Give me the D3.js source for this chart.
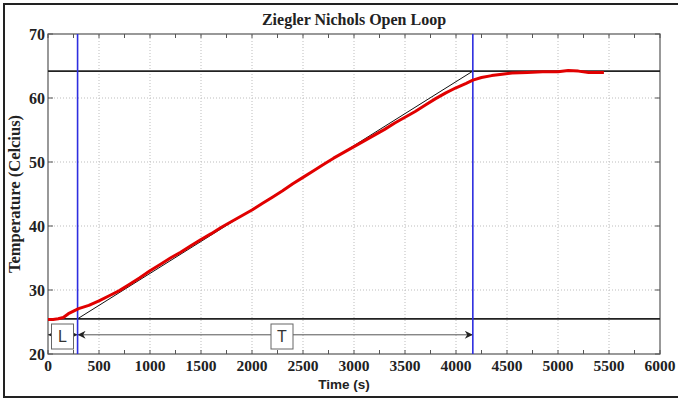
<html lang="en">
  <head>
    <meta charset="utf-8">
    <title>Ziegler Nichols Open Loop</title>
    <script src="https://d3js.org/d3.v7.min.js"></script>
    <style>
      body { margin: 0; background: #fff; }
      .tick-label { font-family: "Liberation Serif", "Times New Roman", serif; font-weight: bold; fill: #222; }
      .grid line { stroke: #bdbdbd; stroke-dasharray: 1,2; }
    </style>
  </head>
  <body>
    <script>
    // measured temperature (red curve)
    var timeS = [0, 50, 100, 150, 200, 250, 300, 400, 500, 600, 700, 800, 900, 1000,
      1100, 1200, 1300, 1400, 1500, 1600, 1700, 1800, 1900, 2000, 2100, 2200, 2300,
      2400, 2500, 2600, 2700, 2800, 2900, 3000, 3100, 3200, 3300, 3400, 3500, 3600,
      3700, 3800, 3900, 4000, 4100, 4165, 4250, 4350, 4450, 4550, 4700, 4850, 5000,
      5100, 5200, 5300, 5450];
    var tempC = [25.4, 25.4, 25.5, 25.7, 26.3, 26.7, 27.1, 27.6, 28.3, 29.1, 29.9, 30.9, 31.9, 33.0,
      34.0, 35.0, 35.9, 36.9, 37.9, 38.8, 39.8, 40.7, 41.6, 42.5, 43.5, 44.5, 45.5,
      46.6, 47.6, 48.6, 49.6, 50.6, 51.5, 52.4, 53.3, 54.2, 55.1, 56.1, 57.0, 57.9,
      58.9, 59.9, 60.8, 61.6, 62.3, 62.8, 63.2, 63.5, 63.7, 63.9, 64.0, 64.1, 64.1,
      64.3, 64.2, 64.0, 64.0];

    // Ziegler-Nichols construction
    var baseTemp = 25.5, finalTemp = 64.2;
    var deadTime = 290, tangentEnd = 4165;   // L and L+T
    var arrowTemp = 23.0;

    var xTicks = [0, 500, 1000, 1500, 2000, 2500, 3000, 3500, 4000, 4500, 5000, 5500, 6000];
    var yTicks = [20, 30, 40, 50, 60, 70];

    var W = 678, H = 399;
    var svg = d3.select("body").append("svg").attr("width", W).attr("height", H);

    var x = d3.scaleLinear().domain([0, 6000]).range([48, 660]);
    var y = d3.scaleLinear().domain([20, 70]).range([354, 34]);

    // arrow head marker
    svg.append("defs").append("marker")
      .attr("id", "ah").attr("viewBox", "0 0 10 10").attr("refX", 10).attr("refY", 5)
      .attr("markerWidth", 9).attr("markerHeight", 8).attr("markerUnits", "userSpaceOnUse")
      .attr("orient", "auto-start-reverse")
      .append("path").attr("d", "M0,0 L10,5 L0,10 L3,5 Z").attr("fill", "#222");

    // outer frame of the figure
    svg.append("path").attr("d", "M678,4 L4,4 L4,397 L678,397")
      .attr("fill", "none").attr("stroke", "#222").attr("stroke-width", 2);

    // grid
    var grid = svg.append("g").attr("class", "grid");
    grid.selectAll(".gx").data(xTicks.slice(1, -1)).enter().append("line")
      .attr("x1", x).attr("x2", x).attr("y1", y(20)).attr("y2", y(70));
    grid.selectAll(".gy").data(yTicks.slice(1, -1)).enter().append("line")
      .attr("x1", x(0)).attr("x2", x(6000)).attr("y1", y).attr("y2", y);

    // axes box + ticks
    svg.append("rect").attr("x", x(0)).attr("y", y(70))
      .attr("width", x(6000) - x(0)).attr("height", y(20) - y(70))
      .attr("fill", "none").attr("stroke", "#555").attr("stroke-width", 1.2);

    var xMinor = d3.range(0, 6001, 250);
    svg.append("g").selectAll("line").data(xMinor).enter().append("line")
      .attr("x1", x).attr("x2", x).attr("y1", y(20)).attr("y2", y(20) - 4)
      .attr("stroke", "#555");
    svg.append("g").selectAll("line").data(xMinor).enter().append("line")
      .attr("x1", x).attr("x2", x).attr("y1", y(70)).attr("y2", y(70) + 4)
      .attr("stroke", "#555");
    svg.append("g").selectAll("line").data(yTicks).enter().append("line")
      .attr("x1", x(0)).attr("x2", x(0) + 5).attr("y1", y).attr("y2", y).attr("stroke", "#555");
    svg.append("g").selectAll("line").data(yTicks).enter().append("line")
      .attr("x1", x(6000)).attr("x2", x(6000) - 5).attr("y1", y).attr("y2", y).attr("stroke", "#555");

    svg.append("g").selectAll("text").data(xTicks).enter().append("text")
      .attr("class", "tick-label").attr("x", x).attr("y", 371)
      .attr("text-anchor", "middle").style("font-size", "15.5px").text(function(d) { return d; });
    svg.append("g").selectAll("text").data(yTicks).enter().append("text")
      .attr("class", "tick-label").attr("x", 45).attr("y", y).attr("dy", "0.35em")
      .attr("text-anchor", "end").style("font-size", "16px").text(function(d) { return d; });

    // titles
    svg.append("text").attr("x", 354).attr("y", 25).attr("text-anchor", "middle")
      .attr("class", "tick-label").style("font-size", "16px").text("Ziegler Nichols Open Loop");
    svg.append("text").attr("x", 344).attr("y", 389).attr("text-anchor", "middle")
      .style("font-family", "'Liberation Sans', Arial, sans-serif").style("font-weight", "bold")
      .style("font-size", "13.5px").attr("fill", "#222").text("Time (s)");
    svg.append("text").attr("transform", "translate(20,194) rotate(-90)")
      .attr("text-anchor", "middle").attr("class", "tick-label")
      .style("font-size", "16.5px").text("Temperature (Celcius)");

    // horizontal reference lines
    [baseTemp, finalTemp].forEach(function(v) {
      svg.append("line").attr("x1", x(0)).attr("x2", x(6000)).attr("y1", y(v)).attr("y2", y(v))
        .attr("stroke", "#222").attr("stroke-width", 1.8);
    });

    // tangent
    svg.append("line").attr("x1", x(deadTime)).attr("y1", y(baseTemp))
      .attr("x2", x(tangentEnd)).attr("y2", y(finalTemp))
      .attr("stroke", "#111").attr("stroke-width", 1);

    // L and T dimension arrows
    svg.append("line").attr("x1", x(0)).attr("x2", x(deadTime)).attr("y1", y(arrowTemp)).attr("y2", y(arrowTemp))
      .attr("stroke", "#555").attr("stroke-width", 1)
      .attr("marker-start", "url(#ah)").attr("marker-end", "url(#ah)");
    svg.append("line").attr("x1", x(deadTime)).attr("x2", x(tangentEnd)).attr("y1", y(arrowTemp)).attr("y2", y(arrowTemp))
      .attr("stroke", "#555").attr("stroke-width", 1)
      .attr("marker-start", "url(#ah)").attr("marker-end", "url(#ah)");

    var boxes = [{ cx: 62.5, label: "L" }, { cx: 282, label: "T" }];
    boxes.forEach(function(b) {
      svg.append("rect").attr("x", b.cx - 11).attr("y", 324).attr("width", 22).attr("height", 25)
        .attr("fill", "#fff").attr("stroke", "#666").attr("stroke-width", 1);
      svg.append("text").attr("x", b.cx).attr("y", 342).attr("text-anchor", "middle")
        .style("font-family", "'Liberation Sans', Arial, sans-serif").style("font-size", "16px")
        .attr("fill", "#333").text(b.label);
    });

    // blue markers at L and L+T
    [deadTime, tangentEnd].forEach(function(v) {
      svg.append("line").attr("x1", x(v)).attr("x2", x(v)).attr("y1", y(20)).attr("y2", y(70))
        .attr("stroke", "#2e2ee0").attr("stroke-width", 1.6);
    });

    // measured response
    var line = d3.line().x(function(d, i) { return x(timeS[i]); }).y(function(d) { return y(d); });
    svg.append("path").datum(tempC).attr("d", line)
      .attr("fill", "none").attr("stroke", "#e10000").attr("stroke-width", 3)
      .attr("stroke-linejoin", "round");
    </script>
  </body>
</html>
